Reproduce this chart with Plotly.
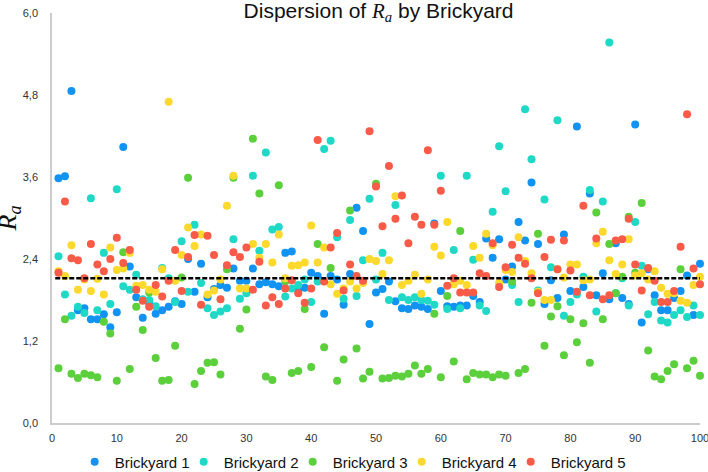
import plotly.graph_objects as go

# sample index 1..100
sample_idx = list(range(1, 101))

brickyard_1 = [
    3.58, 3.61, 4.86, 1.65, 1.68, 1.52, 1.52, 1.59, 1.40, 1.62,
    4.04, 2.29, 1.84, 1.54, 1.75, 1.60, 1.65, 1.70, 1.78, 1.74,
    2.40, 1.92, 2.33, 1.84, 1.96, 2.02, 1.98, 2.26, 2.08, 2.08,
    2.26, 2.03, 2.06, 2.03, 2.00, 2.49, 2.51, 1.94, 1.98, 2.20,
    2.15, 1.60, 2.15, 2.10, 1.73, 2.18, 3.15, 2.81, 1.45, 1.91,
    1.96, 2.07, 1.78, 1.68, 1.67, 1.72, 1.70, 1.67, 2.92, 1.93,
    1.71, 1.70, 1.72, 1.72, 1.86, 1.77, 2.70, 2.42, 2.69, 2.10,
    2.29, 2.94, 2.67, 3.52, 2.62, 1.74, 2.09, 1.83, 2.76, 1.93,
    4.34, 1.99, 3.36, 1.87, 2.19, 1.81, 2.63, 1.83, 1.74, 4.37,
    1.47, 2.25, 1.87, 1.65, 1.65, 1.83, 1.93, 2.16, 1.58, 2.33,
]
brickyard_2 = [
    2.44, 1.88, 1.57, 1.70, 1.61, 3.29, 1.65, 2.49, 1.74, 3.42,
    2.00, 1.95, 2.17, 1.81, 1.80, 1.71, 2.27, 2.12, 1.77, 2.66,
    1.92, 2.90, 2.05, 1.68, 1.58, 1.63, 1.68, 2.69, 1.82, 1.90,
    3.62, 2.52, 3.96, 2.83, 2.87, 1.85, 1.97, 2.02, 2.10, 1.77,
    2.07, 4.01, 4.13, 2.72, 1.82, 2.97, 1.86, 2.38, 3.28, 2.10,
    2.49, 1.80, 3.19, 1.84, 1.80, 1.84, 1.80, 1.79, 1.73, 3.62,
    1.67, 2.53, 1.68, 3.62, 2.39, 1.72, 1.64, 3.09, 4.05, 3.39,
    2.02, 1.77, 4.59, 3.86, 1.94, 3.27, 2.28, 4.43, 1.57, 1.77,
    1.88, 2.14, 3.41, 1.63, 3.24, 5.57, 1.90, 2.12, 1.72, 2.94,
    2.30, 1.59, 1.77, 1.50, 1.47, 1.58, 1.65, 1.55, 1.72, 1.58,
]
brickyard_3 = [
    0.80, 1.52, 0.72, 0.66, 0.72, 0.70, 0.67, 1.48, 1.31, 0.62,
    2.50, 0.79, 1.70, 1.36, 1.91, 0.95, 0.62, 0.63, 1.13, 2.13,
    3.59, 0.57, 0.76, 0.88, 0.89, 0.71, 2.25, 3.59, 1.38, 1.66,
    4.16, 3.36, 0.68, 0.63, 3.48, 2.07, 0.73, 0.76, 1.67, 0.82,
    2.62, 1.11, 2.27, 0.62, 0.93, 3.11, 1.09, 0.65, 0.75, 3.50,
    0.65, 0.66, 0.69, 0.68, 0.72, 0.84, 0.72, 0.79, 1.60, 0.67,
    1.86, 0.90, 2.81, 0.64, 0.73, 0.71, 0.71, 0.67, 0.71, 0.69,
    2.07, 0.73, 0.79, 1.76, 2.77, 1.13, 1.56, 1.71, 0.99, 1.52,
    1.18, 1.46, 0.88, 3.08, 1.52, 2.62, 1.90, 2.14, 3.02, 2.20,
    3.22, 1.06, 0.68, 0.64, 0.76, 0.86, 2.25, 0.80, 0.91, 0.69,
]
brickyard_4 = [
    2.22, 2.15, 2.60, 1.95, 2.10, 1.93, 2.11, 1.88, 2.57, 2.24,
    2.26, 2.49, 2.01, 2.02, 1.95, 1.92, 2.25, 4.70, 2.08, 2.46,
    2.86, 2.59, 2.76, 1.88, 1.94, 2.10, 3.18, 3.62, 1.97, 1.97,
    2.62, 2.42, 2.62, 2.35, 2.76, 2.12, 2.30, 2.31, 2.35, 2.89,
    2.35, 2.57, 2.03, 1.89, 1.97, 2.07, 1.97, 2.05, 2.40, 2.37,
    2.18, 2.38, 3.32, 2.02, 2.08, 2.17, 1.89, 2.10, 2.58, 2.45,
    2.94, 2.03, 2.08, 2.02, 2.59, 2.42, 2.77, 2.60, 2.05, 2.24,
    2.21, 2.72, 2.37, 2.19, 1.92, 1.80, 1.80, 2.25, 2.13, 2.32,
    2.32, 2.09, 2.10, 2.63, 2.80, 2.38, 2.18, 2.32, 2.69, 2.16,
    2.19, 2.10, 2.22, 1.98, 1.89, 1.90, 1.79, 1.76, 2.02, 2.14,
]
brickyard_5 = [
    2.20, 3.24, 2.41, 2.38, 2.12, 2.62, 2.32, 2.22, 2.40, 2.71,
    2.34, 2.53, 1.95, 1.79, 1.70, 2.02, 1.85, 2.08, 2.53, 1.93,
    2.43, 2.75, 1.73, 2.74, 2.46, 1.81, 2.31, 2.50, 2.43, 2.57,
    1.95, 2.36, 1.72, 1.84, 1.74, 1.97, 2.09, 1.90, 1.76, 1.97,
    4.14, 2.07, 2.57, 2.78, 1.94, 2.32, 2.15, 2.08, 4.27, 3.46,
    2.88, 3.76, 2.99, 3.33, 2.63, 3.02, 2.90, 3.99, 2.90, 3.40,
    2.01, 2.12, 1.91, 1.91, 1.91, 2.19, 2.15, 2.63, 1.99, 2.28,
    2.61, 2.42, 2.33, 2.12, 1.90, 2.43, 2.68, 2.25, 2.67, 2.23,
    1.92, 3.18, 1.87, 2.70, 1.81, 1.87, 2.67, 2.69, 2.99, 2.32,
    1.94, 2.27, 2.08, 1.77, 1.77, 1.93, 2.58, 4.52, 2.26, 2.03,
]

series_names = ["Brickyard 1", "Brickyard 2", "Brickyard 3", "Brickyard 4", "Brickyard 5"]
series_values = [brickyard_1, brickyard_2, brickyard_3, brickyard_4, brickyard_5]
series_colors = ["#1093f2", "#1fd9c6", "#5bd03c", "#fcd92c", "#fa5b48"]

mean_x = [0.5, 100]
mean_value = 2.12

fig = go.Figure()
for k, (name, vals, color) in enumerate(zip(series_names, series_values, series_colors)):
    fig.add_trace(
        go.Scatter(
            x=sample_idx,
            y=vals,
            mode="markers",
            name=name,
            cliponaxis=False,
            # last legend entry gets room for its full label
            legendwidth=85 if k == len(series_names) - 1 else None,
            marker=dict(color=color, size=8, line=dict(width=0)),
        )
    )

fig.add_trace(
    go.Scatter(
        x=mean_x,
        y=[mean_value] * len(mean_x),
        mode="lines",
        line=dict(color="black", width=2.5, dash="5px,2px"),
        showlegend=False,
        hoverinfo="skip",
    )
)

axis_style = dict(
    showgrid=False,
    zeroline=False,
    showline=True,
    linecolor="#cccccc",
    linewidth=1.5,
    ticks="outside",
    tickcolor="rgba(0,0,0,0)",
    tickfont=dict(size=11, color="#333"),
)

fig.update_layout(
    width=708,
    height=472,
    margin=dict(l=52, r=8, t=13, b=49, autoexpand=False),
    paper_bgcolor="white",
    plot_bgcolor="white",
    separators=",.",
    font=dict(family="Liberation Sans, Arial, sans-serif", color="#222"),
    title=dict(
        text="Dispersion of <span style='font-family:Liberation Serif'><i>R</i><sub><i>a</i></sub></span> by Brickyard",
        x=0.504,
        xref="paper",
        xanchor="center",
        y=0.962,
        yref="container",
        yanchor="bottom",
        font=dict(size=21, color="#111"),
    ),
    xaxis=dict(
        range=[0, 100],
        dtick=10,
        tick0=0,
        ticklen=4,
        ticklabeloverflow="allow",
        **axis_style,
    ),
    yaxis=dict(
        range=[0, 6],
        dtick=1.2,
        tick0=0,
        tickformat=".1f",
        ticklen=10,
        automargin=False,
        **axis_style,
    ),
    annotations=[
        dict(
            text="<i>R</i><sub><i>a</i></sub>",
            xref="paper",
            yref="paper",
            x=-0.067,
            y=0.498,
            xanchor="center",
            yanchor="middle",
            textangle=-90,
            showarrow=False,
            font=dict(family="Liberation Serif, DejaVu Serif, serif", size=26, color="#111"),
        )
    ],
    legend=dict(
        orientation="h",
        x=0.035,
        xanchor="left",
        y=-0.095,
        yanchor="middle",
        font=dict(size=15, color="#111"),
        itemwidth=30,
        entrywidth=64,
    ),
)

# drop the browser's default 8px body margin so the figure sits at the page origin
fig.write_html(
    "out.html",
    config={"displayModeBar": False},
    post_script="document.body.style.margin='0';",
)
